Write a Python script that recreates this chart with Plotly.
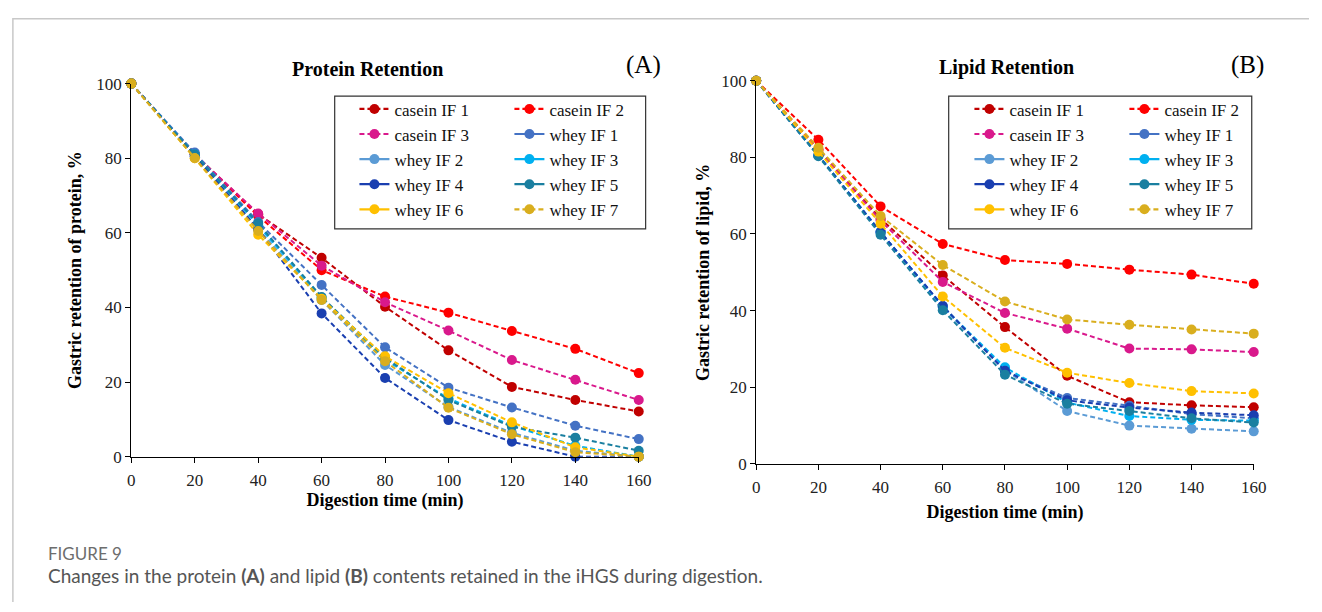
import plotly.graph_objects as go

W, H = 1322, 612

# ---------------- data ----------------
time_min = [0, 20, 40, 60, 80, 100, 120, 140, 160]
x_ticks = [0, 20, 40, 60, 80, 100, 120, 140, 160]
y_ticks = [0, 20, 40, 60, 80, 100]

series_names = ["casein IF 1", "casein IF 2", "casein IF 3", "whey IF 1", "whey IF 2",
                "whey IF 3", "whey IF 4", "whey IF 5", "whey IF 6", "whey IF 7"]

# (A) protein retention, %
protein_casein_if1 = [100, 81.0, 65.0, 53.3, 40.2, 28.5, 18.7, 15.2, 12.1]
protein_casein_if2 = [100, 81.0, 64.5, 50.0, 42.9, 38.6, 33.7, 28.9, 22.4]
protein_casein_if3 = [100, 81.0, 65.2, 51.2, 41.4, 33.8, 25.9, 20.6, 15.2]
protein_whey_if1 = [100, 81.5, 62.9, 46.0, 29.3, 18.5, 13.2, 8.3, 4.7]
protein_whey_if2 = [100, 80.5, 61.0, 42.0, 24.6, 13.3, 6.4, 1.6, 0.0]
protein_whey_if3 = [100, 81.0, 62.0, 42.5, 26.0, 15.6, 8.3, 2.9, 0.0]
protein_whey_if4 = [100, 80.5, 61.0, 38.4, 21.1, 9.8, 4.0, 0.0, 0.0]
protein_whey_if5 = [100, 81.0, 62.5, 42.8, 26.5, 15.2, 8.0, 5.1, 1.6]
protein_whey_if6 = [100, 80.0, 59.5, 42.3, 26.9, 17.0, 9.2, 2.5, 0.0]
protein_whey_if7 = [100, 80.0, 60.5, 42.0, 25.6, 13.1, 6.0, 1.2, 0.0]

# (B) lipid retention, %
lipid_casein_if1 = [100, 82.0, 64.0, 49.2, 35.7, 23.0, 16.1, 15.3, 14.8]
lipid_casein_if2 = [100, 84.6, 67.2, 57.4, 53.2, 52.2, 50.7, 49.4, 47.0]
lipid_casein_if3 = [100, 82.0, 63.5, 47.5, 39.4, 35.3, 30.1, 29.9, 29.2]
lipid_whey_if1 = [100, 80.5, 60.5, 41.2, 24.3, 17.2, 15.2, 13.0, 11.9]
lipid_whey_if2 = [100, 80.5, 60.5, 40.8, 24.5, 13.8, 10.0, 9.2, 8.5]
lipid_whey_if3 = [100, 80.5, 60.5, 41.0, 25.2, 16.0, 12.5, 11.5, 11.3]
lipid_whey_if4 = [100, 80.5, 60.5, 41.2, 24.3, 16.6, 14.7, 13.4, 12.7]
lipid_whey_if5 = [100, 80.3, 59.8, 40.1, 23.3, 15.7, 13.8, 11.9, 10.8]
lipid_whey_if6 = [100, 81.5, 62.7, 43.7, 30.3, 23.8, 21.1, 19.0, 18.4]
lipid_whey_if7 = [100, 82.5, 64.7, 51.9, 42.4, 37.7, 36.3, 35.1, 34.0]

protein_series = [protein_casein_if1, protein_casein_if2, protein_casein_if3, protein_whey_if1,
                  protein_whey_if2, protein_whey_if3, protein_whey_if4, protein_whey_if5,
                  protein_whey_if6, protein_whey_if7]
lipid_series = [lipid_casein_if1, lipid_casein_if2, lipid_casein_if3, lipid_whey_if1,
                lipid_whey_if2, lipid_whey_if3, lipid_whey_if4, lipid_whey_if5,
                lipid_whey_if6, lipid_whey_if7]

# ---------------- styles ----------------
colors = ["#C00000", "#FF0000", "#D9198C", "#4472C4", "#5B9BD5",
          "#00B0F0", "#1A3FB0", "#1A7FA0", "#FFC000", "#D9AE1E"]
legend_solid = [False, False, False, True, True, True, True, True, True, False]
DASH = "5px,3px"
SERIF = "Liberation Serif, Times New Roman, serif"


def px_x(p):
    return p / W


def px_y(p):
    return 1 - p / H


fig = go.Figure()

panels = [("x", "y", protein_series, ("legend", "legend2")),
          ("x2", "y2", lipid_series, ("legend3", "legend4"))]

for xa, ya, data, legs in panels:
    for i, (name, vals) in enumerate(zip(series_names, data)):
        fig.add_trace(go.Scatter(
            x=time_min, y=vals, name=name, xaxis=xa, yaxis=ya,
            mode="lines+markers", showlegend=False, cliponaxis=False,
            line=dict(color=colors[i], width=2, dash=DASH),
            marker=dict(color=colors[i], size=10, symbol="circle"),
        ))
    # legend entries (left column: even index, right column: odd index)
    for i, name in enumerate(series_names):
        fig.add_trace(go.Scatter(
            x=[None], y=[None], name=name, xaxis=xa, yaxis=ya,
            mode="lines+markers", showlegend=True,
            legend=legs[i % 2], legendgroup=f"{xa}-{name}",
            line=dict(color=colors[i], width=2.2, dash="solid" if legend_solid[i] else DASH),
            marker=dict(color=colors[i], size=10),
        ))

axis_common = dict(showline=True, linecolor="black", linewidth=1.3, ticks="outside",
                   ticklen=5, tickcolor="black", tickwidth=1.3, showgrid=False,
                   zeroline=False, tickfont=dict(family=SERIF, size=17, color="#222"))

title_font = dict(family=SERIF, size=18, color="black", weight="bold")

fig.update_layout(
    width=W, height=H, margin=dict(l=0, r=0, t=0, b=0),
    paper_bgcolor="white", plot_bgcolor="white",
    xaxis=dict(domain=[px_x(129), px_x(643)], range=[0, 160], tickvals=x_ticks,
               anchor="y", ticklabelstandoff=3,
               title=dict(text="Digestion time (min)", font=title_font, standoff=2),
               **axis_common),
    yaxis=dict(domain=[px_y(462), px_y(77)], range=[0, 100], tickvals=y_ticks,
               anchor="x", title=dict(text="Gastric retention of protein, %", font=title_font, standoff=9),
               **axis_common),
    xaxis2=dict(domain=[px_x(762), px_x(1266)], range=[0, 160], tickvals=x_ticks,
                anchor="y2", ticklabelstandoff=3,
                title=dict(text="Digestion time (min)", font=title_font, standoff=8),
                **axis_common),
    yaxis2=dict(domain=[px_y(469.5), px_y(74)], range=[0, 100], tickvals=y_ticks,
                anchor="x2", title=dict(text="Gastric retention of lipid, %", font=title_font, standoff=6),
                **axis_common),
)

leg_common = dict(orientation="v", xanchor="left", yanchor="top", bgcolor="rgba(0,0,0,0)",
                  borderwidth=0, font=dict(family=SERIF, size=17, color="#111"),
                  tracegroupgap=5, itemwidth=30, traceorder="normal")
fig.update_layout(
    legend=dict(x=px_x(355), y=px_y(85), **leg_common),
    legend2=dict(x=px_x(512), y=px_y(85), **leg_common),
    legend3=dict(x=px_x(978), y=px_y(85), **leg_common),
    legend4=dict(x=px_x(1135), y=px_y(85), **leg_common),
)

shapes = [
    dict(type="rect", xref="paper", yref="paper", x0=px_x(335), x1=px_x(650), y0=px_y(227), y1=px_y(90),
         line=dict(color="#333", width=1.2), fillcolor="rgba(0,0,0,0)"),
    dict(type="rect", xref="paper", yref="paper", x0=px_x(957), x1=px_x(1264), y0=px_y(227), y1=px_y(90),
         line=dict(color="#333", width=1.2), fillcolor="rgba(0,0,0,0)"),
    dict(type="path", xref="paper", yref="paper",
         path=f"M {px_x(9)},{px_y(612)} L {px_x(9)},{px_y(10)} L {px_x(1322)},{px_y(10)}",
         line=dict(color="#c8c8c8", width=1.5)),
]
fig.update_layout(shapes=shapes)

annotations = [
    dict(text="<b>Protein Retention</b>", x=px_x(368), y=px_y(62), font=dict(family=SERIF, size=20, color="black")),
    dict(text="(A)", x=px_x(648), y=px_y(58), font=dict(family=SERIF, size=25, color="black")),
    dict(text="<b>Lipid Retention</b>", x=px_x(1016), y=px_y(60), font=dict(family=SERIF, size=20, color="black")),
    dict(text="(B)", x=px_x(1260), y=px_y(58), font=dict(family=SERIF, size=25, color="black")),
]
for a in annotations:
    a.update(xref="paper", yref="paper", xanchor="center", yanchor="middle", showarrow=False)

annotations += [
    dict(text="FIGURE 9", x=px_x(43), y=px_y(562), xref="paper", yref="paper", xanchor="left",
         yanchor="middle", showarrow=False, font=dict(family="Lato, Open Sans, sans-serif", size=17, color="#6d6d6d")),
    dict(text="Changes in the protein <b>(A)</b> and lipid <b>(B)</b> contents retained in the iHGS during digestion.",
         x=px_x(43), y=px_y(585), xref="paper", yref="paper", xanchor="left", yanchor="middle", showarrow=False,
         font=dict(family="Lato, Open Sans, sans-serif", size=19, color="#555555")),
]
fig.update_layout(annotations=annotations)

fig.write_html("out.html", post_script="document.body.style.margin='0';")
